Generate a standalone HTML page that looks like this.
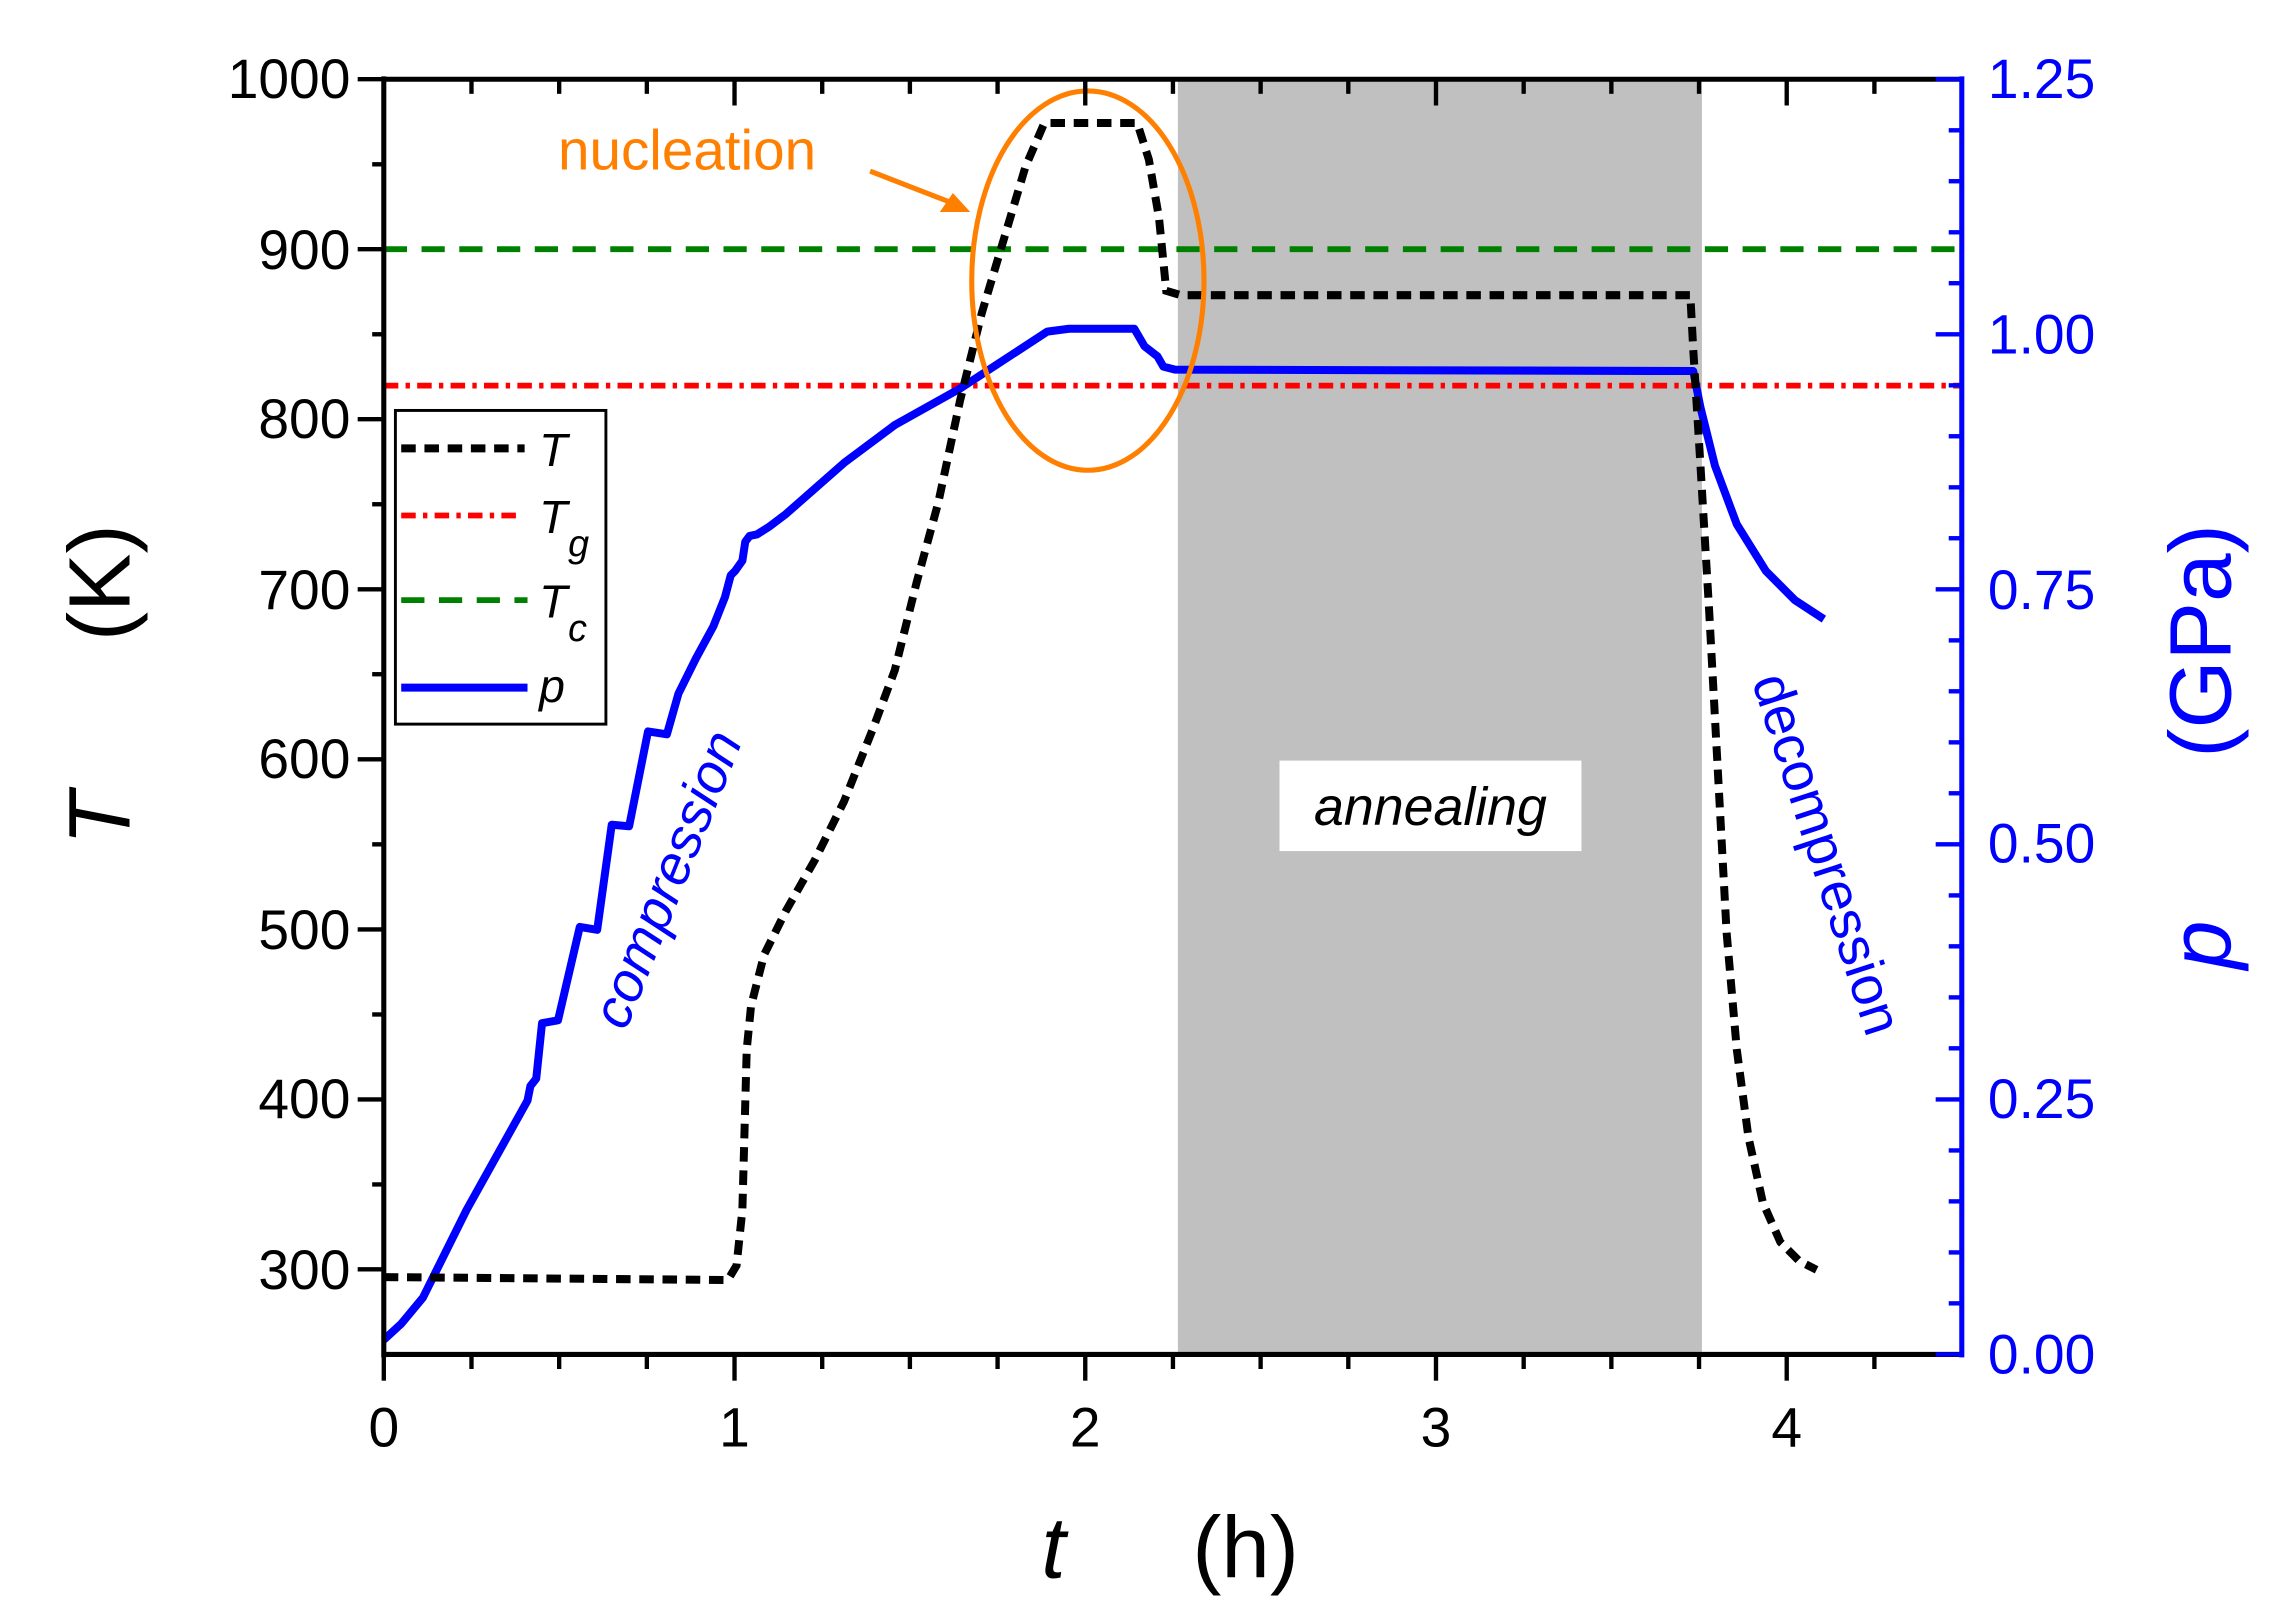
<!DOCTYPE html>
<html><head><meta charset="utf-8"><style>
html,body{margin:0;padding:0;background:#fff;}
svg{display:block;font-family:"Liberation Sans",Arial,sans-serif;}
</style></head><body>
<svg width="2278" height="1608" viewBox="0 0 2278 1608" xmlns="http://www.w3.org/2000/svg">
<rect width="2278" height="1608" fill="#fff"/>
<g transform="matrix(1.4517 0 0 1.459 2 -1)">
<rect x="810" y="55" width="361" height="874" fill="#c0c0c0"/>
<rect x="880" y="522" width="208" height="62" fill="#fff"/>
<text x="984" y="566" font-size="37" font-style="italic" text-anchor="middle">annealing</text>

<line x1="263" y1="171.5" x2="1350" y2="171.5" stroke="#008000" stroke-width="4" stroke-dasharray="16 10"/>
<line x1="263" y1="265" x2="1350" y2="265" stroke="#ff0000" stroke-width="4" stroke-dasharray="10 5 3 5"/>

<path d="M263,919 L275,908 L290,890 L320,830 L362,755 L364,745 L368,740 L372,702 L383,700 L398,636 L410,638 L420,566 L432,567 L445,502 L458,504 L466,476 L478,452 L490,430 L498,410 L502,395 L505,392 L510,385 L512,372 L515,368 L520,367 L528,362 L540,353 L580,318 L615,292 L660,267 L720,228 L735,226 L780,226 L787,238 L796,245 L800,252 L808,254 L1165,255 L1170,280 L1180,320 L1195,360 L1215,392 L1235,412 L1255,425" fill="none" stroke="#0000ff" stroke-width="5.5" stroke-linejoin="round"/>

<path d="M263,876 L500,878 L506,868 L510,830 L513,720 L516,690 L525,655 L540,625 L560,590 L580,550 L600,500 L615,460 L630,400 L645,345 L660,275 L675,215 L690,165 L705,115 L718,85 L782,85 L790,110 L797,150 L802,200 L812,203 L1163,203 L1165,240 L1170,320 L1176,420 L1182,530 L1188,640 L1195,720 L1203,780 L1213,825 L1225,852 L1238,865 L1250,871" fill="none" stroke="#000" stroke-width="5.5" stroke-dasharray="10 6"/>

<ellipse cx="748" cy="193" rx="80" ry="130" fill="none" stroke="#ff8000" stroke-width="3.5"/>
<text x="383" y="117" font-size="39" fill="#ff8000">nucleation</text>
<line x1="598" y1="118" x2="655" y2="140" stroke="#ff8000" stroke-width="3.5"/>
<polygon points="667,146 646,146 655,133" fill="#ff8000"/>

<line x1="263" y1="55" x2="1350" y2="55" stroke="#000" stroke-width="3.5"/>
<line x1="263" y1="929" x2="1350" y2="929" stroke="#000" stroke-width="3.5"/>
<line x1="263" y1="53" x2="263" y2="931" stroke="#000" stroke-width="3.5"/>
<line x1="1350" y1="53" x2="1350" y2="931" stroke="#0000ff" stroke-width="3.5"/>

<g stroke="#000" stroke-width="3">
<line x1="263" y1="929" x2="263" y2="947"/><line x1="504.6" y1="929" x2="504.6" y2="947"/><line x1="746.2" y1="929" x2="746.2" y2="947"/><line x1="987.8" y1="929" x2="987.8" y2="947"/><line x1="1229.4" y1="929" x2="1229.4" y2="947"/>
<line x1="323.4" y1="929" x2="323.4" y2="939"/><line x1="383.8" y1="929" x2="383.8" y2="939"/><line x1="444.2" y1="929" x2="444.2" y2="939"/>
<line x1="565" y1="929" x2="565" y2="939"/><line x1="625.4" y1="929" x2="625.4" y2="939"/><line x1="685.8" y1="929" x2="685.8" y2="939"/>
<line x1="806.6" y1="929" x2="806.6" y2="939"/><line x1="867" y1="929" x2="867" y2="939"/><line x1="927.4" y1="929" x2="927.4" y2="939"/>
<line x1="1048.2" y1="929" x2="1048.2" y2="939"/><line x1="1108.6" y1="929" x2="1108.6" y2="939"/><line x1="1169" y1="929" x2="1169" y2="939"/>
<line x1="1289.8" y1="929" x2="1289.8" y2="939"/>
<line x1="504.6" y1="55" x2="504.6" y2="73"/><line x1="746.2" y1="55" x2="746.2" y2="73"/><line x1="987.8" y1="55" x2="987.8" y2="73"/><line x1="1229.4" y1="55" x2="1229.4" y2="73"/>
<line x1="323.4" y1="55" x2="323.4" y2="65"/><line x1="383.8" y1="55" x2="383.8" y2="65"/><line x1="444.2" y1="55" x2="444.2" y2="65"/>
<line x1="565" y1="55" x2="565" y2="65"/><line x1="625.4" y1="55" x2="625.4" y2="65"/><line x1="685.8" y1="55" x2="685.8" y2="65"/>
<line x1="806.6" y1="55" x2="806.6" y2="65"/><line x1="867" y1="55" x2="867" y2="65"/><line x1="927.4" y1="55" x2="927.4" y2="65"/>
<line x1="1048.2" y1="55" x2="1048.2" y2="65"/><line x1="1108.6" y1="55" x2="1108.6" y2="65"/><line x1="1169" y1="55" x2="1169" y2="65"/>
<line x1="1289.8" y1="55" x2="1289.8" y2="65"/>
<line x1="245" y1="55" x2="263" y2="55"/><line x1="245" y1="171.5" x2="263" y2="171.5"/><line x1="245" y1="288" x2="263" y2="288"/><line x1="245" y1="404.6" x2="263" y2="404.6"/><line x1="245" y1="521.1" x2="263" y2="521.1"/><line x1="245" y1="637.7" x2="263" y2="637.7"/><line x1="245" y1="754.2" x2="263" y2="754.2"/><line x1="245" y1="870.7" x2="263" y2="870.7"/>
<line x1="255" y1="113.3" x2="263" y2="113.3"/><line x1="255" y1="229.8" x2="263" y2="229.8"/><line x1="255" y1="346.3" x2="263" y2="346.3"/><line x1="255" y1="462.8" x2="263" y2="462.8"/><line x1="255" y1="579.4" x2="263" y2="579.4"/><line x1="255" y1="696" x2="263" y2="696"/><line x1="255" y1="812.5" x2="263" y2="812.5"/>
</g>
<g stroke="#0000ff" stroke-width="3">
<line x1="1332" y1="55" x2="1350" y2="55"/><line x1="1332" y1="229.8" x2="1350" y2="229.8"/><line x1="1332" y1="404.6" x2="1350" y2="404.6"/><line x1="1332" y1="579.4" x2="1350" y2="579.4"/><line x1="1332" y1="754.2" x2="1350" y2="754.2"/><line x1="1332" y1="929" x2="1350" y2="929"/>
<line x1="1341" y1="90" x2="1350" y2="90"/><line x1="1341" y1="124.9" x2="1350" y2="124.9"/><line x1="1341" y1="159.9" x2="1350" y2="159.9"/><line x1="1341" y1="194.8" x2="1350" y2="194.8"/>
<line x1="1341" y1="264.8" x2="1350" y2="264.8"/><line x1="1341" y1="299.7" x2="1350" y2="299.7"/><line x1="1341" y1="334.7" x2="1350" y2="334.7"/><line x1="1341" y1="369.6" x2="1350" y2="369.6"/>
<line x1="1341" y1="439.6" x2="1350" y2="439.6"/><line x1="1341" y1="474.5" x2="1350" y2="474.5"/><line x1="1341" y1="509.5" x2="1350" y2="509.5"/><line x1="1341" y1="544.4" x2="1350" y2="544.4"/>
<line x1="1341" y1="614.4" x2="1350" y2="614.4"/><line x1="1341" y1="649.3" x2="1350" y2="649.3"/><line x1="1341" y1="684.3" x2="1350" y2="684.3"/><line x1="1341" y1="719.2" x2="1350" y2="719.2"/>
<line x1="1341" y1="789.2" x2="1350" y2="789.2"/><line x1="1341" y1="824.1" x2="1350" y2="824.1"/><line x1="1341" y1="859.1" x2="1350" y2="859.1"/><line x1="1341" y1="894" x2="1350" y2="894"/>
</g>

<g font-size="38" text-anchor="end">
<text x="240" y="68">1000</text><text x="240" y="185">900</text><text x="240" y="301">800</text><text x="240" y="418">700</text><text x="240" y="534">600</text><text x="240" y="651">500</text><text x="240" y="767">400</text><text x="240" y="884">300</text>
</g>
<g font-size="38" text-anchor="middle">
<text x="263" y="992">0</text><text x="504.6" y="992">1</text><text x="746.2" y="992">2</text><text x="987.8" y="992">3</text><text x="1229.4" y="992">4</text>
</g>
<g font-size="38" fill="#0000ff">
<text x="1368" y="68">1.25</text><text x="1368" y="243">1.00</text><text x="1368" y="418">0.75</text><text x="1368" y="592">0.50</text><text x="1368" y="767">0.25</text><text x="1368" y="942">0.00</text>
</g>

<g transform="translate(88,500) rotate(-90)" font-size="60">
<text x="-80" y="0" font-style="italic">T</text>
<text x="60" y="0">(K)</text>
</g>
<g transform="translate(1535,500) rotate(-90)" font-size="60" fill="#0000ff">
<text x="-165" y="0" font-style="italic">p</text>
<text x="-20" y="0">(GPa)</text>
</g>
<text x="716" y="1082" font-size="60" font-style="italic">t</text>
<text x="820" y="1082" font-size="60">(h)</text>

<text transform="translate(470,608) rotate(-68)" font-size="38" font-style="italic" fill="#0000ff" text-anchor="middle">compression</text>
<text transform="translate(1245,590) rotate(72)" font-size="38" fill="#0000ff" text-anchor="middle">decompression</text>

<rect x="271" y="282" width="145" height="215" fill="#fff" stroke="#000" stroke-width="2"/>
<line x1="275" y1="308" x2="360" y2="308" stroke="#000" stroke-width="5.5" stroke-dasharray="10 6"/>
<text x="370" y="320" font-size="32" font-style="italic">T</text>
<line x1="275" y1="354" x2="355" y2="354" stroke="#ff0000" stroke-width="4" stroke-dasharray="10 5 3 5"/>
<text x="370" y="366" font-size="32" font-style="italic">T</text><text x="390" y="382" font-size="26" font-style="italic">g</text>
<line x1="275" y1="412" x2="362" y2="412" stroke="#008000" stroke-width="4" stroke-dasharray="16 10"/>
<text x="370" y="424" font-size="32" font-style="italic">T</text><text x="390" y="440" font-size="26" font-style="italic">c</text>
<line x1="275" y1="472" x2="362" y2="472" stroke="#0000ff" stroke-width="5.5"/>
<text x="370" y="482" font-size="32" font-style="italic">p</text>
</g>
</svg>
</body></html>
